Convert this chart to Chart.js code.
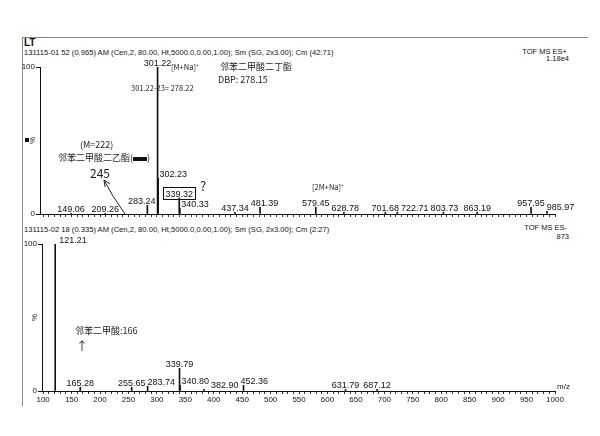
<!DOCTYPE html>
<html><head><meta charset="utf-8">
<script src="https://cdn.jsdelivr.net/npm/chart.js@4.4.0/dist/chart.umd.min.js"></script>
<style>
body{margin:0;background:#fff;width:600px;height:436px;overflow:hidden;position:relative;font-family:"Liberation Sans",Arial,sans-serif;}
.t{position:absolute;white-space:nowrap;color:#111;line-height:1;}
.hw{position:absolute;white-space:nowrap;color:#222;font-family:"Noto Sans CJK SC",sans-serif;font-size:9px;line-height:1;}
canvas{position:absolute;left:0;}
</style></head><body>
<div style="position:absolute;left:22px;top:37px;width:565px;height:368px;border-left:1px solid #888;border-top:1px solid #888;"></div>
<div class="t" style="left:24px;top:38px;font-size:10px;font-weight:bold;">LT</div>
<div class="t" style="left:24px;top:49px;font-size:7.6px;">131115-01 52 (0.965) AM (Cen,2, 80.00, Ht,5000.0,0.00,1.00); Sm (SG, 2x3.00); Cm (42:71)</div>
<div class="t" style="right:33px;top:48px;font-size:7.5px;">TOF MS ES+</div>
<div class="t" style="right:31px;top:55px;font-size:7.5px;">1.18e4</div>
<div class="t" style="left:24px;top:226px;font-size:7.6px;">131115-02 18 (0.335) AM (Cen,2, 80.00, Ht,5000.0,0.00,1.00); Sm (SG, 2x3.00); Cm (2:27)</div>
<div class="t" style="right:33px;top:224px;font-size:7.5px;">TOF MS ES-</div>
<div class="t" style="right:31px;top:233px;font-size:7.5px;">873</div>
<div style="position:absolute;left:25px;top:138px;width:4px;height:4px;background:#111;"></div>

<canvas id="top" width="600" height="185" style="top:40px"></canvas>
<canvas id="bot" width="600" height="190" style="top:222px"></canvas>

<div class="hw" style="left:171px;top:63px;font-size:7.5px;">[M+Na]⁺</div>
<div class="hw" style="left:220px;top:62px;">邻苯二甲酸二丁酯</div>
<div class="hw" style="left:218px;top:75px;">DBP: 278.15</div>
<div class="hw" style="left:131px;top:84px;font-size:7.5px;">301.22-23= 278.22</div>
<div class="hw" style="left:80px;top:140px;">(M=222)</div>
<div class="hw" style="left:58px;top:153px;">邻苯二甲酸二乙酯(<span style="display:inline-block;width:14px;height:4px;background:#111;vertical-align:middle;"></span>)</div>
<div class="hw" style="left:90px;top:167px;font-size:12px;">245</div>
<div class="hw" style="left:200px;top:179px;font-size:13px;">?</div>
<div class="hw" style="left:312px;top:183px;font-size:7.5px;">[2M+Na]⁺</div>
<div class="hw" style="left:75px;top:326px;">邻苯二甲酸:166</div>
<div class="hw" style="left:76px;top:340px;font-size:12px;">↑</div>
<svg width="600" height="436" style="position:absolute;left:0;top:0;pointer-events:none">
<path d="M125,214 Q112,196 104,180" stroke="#222" stroke-width="1" fill="none"/>
<path d="M104,180 L105,187 M104,180 L110,184" stroke="#222" stroke-width="1" fill="none"/>
</svg>

<script>
const topMz  = [149.06, 209.26, 283.24, 301.22, 302.23, 339.32, 340.33, 437.34, 481.39, 579.45, 628.78, 701.68, 722.71, 803.73, 863.19, 957.95, 985.97];
const topInt = [0.5, 0.5, 5.9, 100, 24.3, 11, 3.9, 1.2, 4.6, 4.6, 1.2, 1.2, 1.2, 1.2, 1.2, 4.6, 1.9];
const botMz  = [121.21, 165.28, 255.65, 283.74, 339.79, 340.80, 382.90, 452.36, 631.79, 687.12];
const botInt = [100, 2.5, 2.5, 3.2, 15.4, 3.9, 1.1, 3.9, 1.1, 1.1];
const yTicks = [0, 100];

const peakLabels = {
  id: 'peakLabels',
  afterDatasetsDraw(chart, args, opts) {
    const ctx = chart.ctx, xs = chart.scales.x, ys = chart.scales.y, ca = chart.chartArea;
    const ds = chart.data.datasets[0].data;
    ctx.save();
    ctx.font = '9px "Liberation Sans", Arial, sans-serif';
    ctx.fillStyle = '#111';
    ctx.textBaseline = 'alphabetic';
    ctx.textAlign = 'center';
    const peaks = ds.map(d => ({px: xs.getPixelForValue(d.x), py: ys.getPixelForValue(d.y), label: d.x.toFixed(2), v: d.x}));
    const placed = [];
    const h = 7;
    peaks.forEach((p, i) => {
      const w = ctx.measureText(p.label).width;
      let cx = p.px, base = p.py - 1;
      peaks.forEach((q, j) => {
        if (j === i) return;
        if (q.py < base && Math.abs(q.px - cx) < w / 2 + 1) {
          cx = q.px <= p.px ? q.px + w / 2 + 2 : q.px - w / 2 - 2;
        }
      });
      if (cx - w / 2 < ca.left + 3) { cx = p.px + 4 + w / 2; }
      placed.forEach(b => {
        if (cx - w / 2 < b.r + 1 && cx + w / 2 > b.l - 1 && base > b.t && base - h < b.b) {
          cx = b.r + 2 + w / 2;
        }
      });
      ctx.fillText(p.label, cx, base);
      placed.push({l: cx - w / 2, r: cx + w / 2, t: base - h, b: base});
      if ((opts.boxed || []).includes(p.v)) {
        ctx.strokeStyle = '#111'; ctx.lineWidth = 1;
        ctx.strokeRect(Math.round(cx - w / 2 - 2) + 0.5, Math.round(base - h - 3) + 0.5, Math.round(w + 4), h + 5);
      }
    });
    ctx.save();
    ctx.translate(ca.left - 7, (ca.top + ca.bottom) / 2);
    ctx.rotate(-Math.PI / 2);
    ctx.font = '8px "Liberation Sans", Arial, sans-serif';
    ctx.textBaseline = 'middle';
    ctx.fillText('%', 0, 0);
    ctx.restore();
    if (opts.mz) {
      ctx.textAlign = 'left';
      ctx.textBaseline = 'bottom';
      ctx.font = '8px "Liberation Sans", Arial, sans-serif';
      ctx.fillText('m/z', ca.right + 2, ca.bottom);
    }
    ctx.restore();
  }
};

function makeChart(id, mz, inten, cfg) {
  return new Chart(document.getElementById(id), {
    type: 'bar',
    data: {datasets: [{data: mz.map((x, i) => ({x: x, y: inten[i]})), backgroundColor: '#111', borderWidth: 0, barThickness: 1, grouped: false}]},
    options: {
      responsive: false, animation: false, devicePixelRatio: 1,
      layout: {padding: {left: 0, right: 45, top: cfg.padTop, bottom: cfg.padBottom}},
      plugins: {legend: {display: false}, tooltip: {enabled: false}, peakLabels: {boxed: cfg.boxed, mz: cfg.mz}},
      scales: {
        x: {
          type: 'linear', min: cfg.xmin, max: 1000, offset: false,
          grid: {display: true, drawOnChartArea: false, drawTicks: true, tickLength: 3, color: '#333', offset: false},
          border: {display: true, color: '#111'},
          ticks: {stepSize: 10, autoSkip: false, maxRotation: 0, minRotation: 0, includeBounds: false, display: cfg.labels,
                  callback: v => (v % 50 === 0 ? String(v) : ''), font: {size: 8, family: '"Liberation Sans", Arial'}, color: '#111', padding: 1},
          afterFit: s => { s.height = cfg.xh; }
        },
        y: {
          min: 0, max: 100,
          afterBuildTicks: s => { s.ticks = yTicks.map(v => ({value: v})); },
          ticks: {font: {size: 8, family: '"Liberation Sans", Arial'}, color: '#111', padding: 1},
          grid: {drawOnChartArea: false, tickLength: 4, color: '#111'},
          border: {color: '#111'},
          afterFit: s => { s.width = cfg.yw; }
        }
      }
    },
    plugins: [peakLabels]
  });
}

makeChart('top', topMz, topInt, {padTop: 27, padBottom: 5, xh: 6, yw: 40, xmin: 94.5, labels: false, boxed: [339.32], mz: false});
makeChart('bot', botMz, botInt, {padTop: 22, padBottom: 5, xh: 16, yw: 42, xmin: 98, labels: true, boxed: [], mz: true});
</script>
</body></html>
